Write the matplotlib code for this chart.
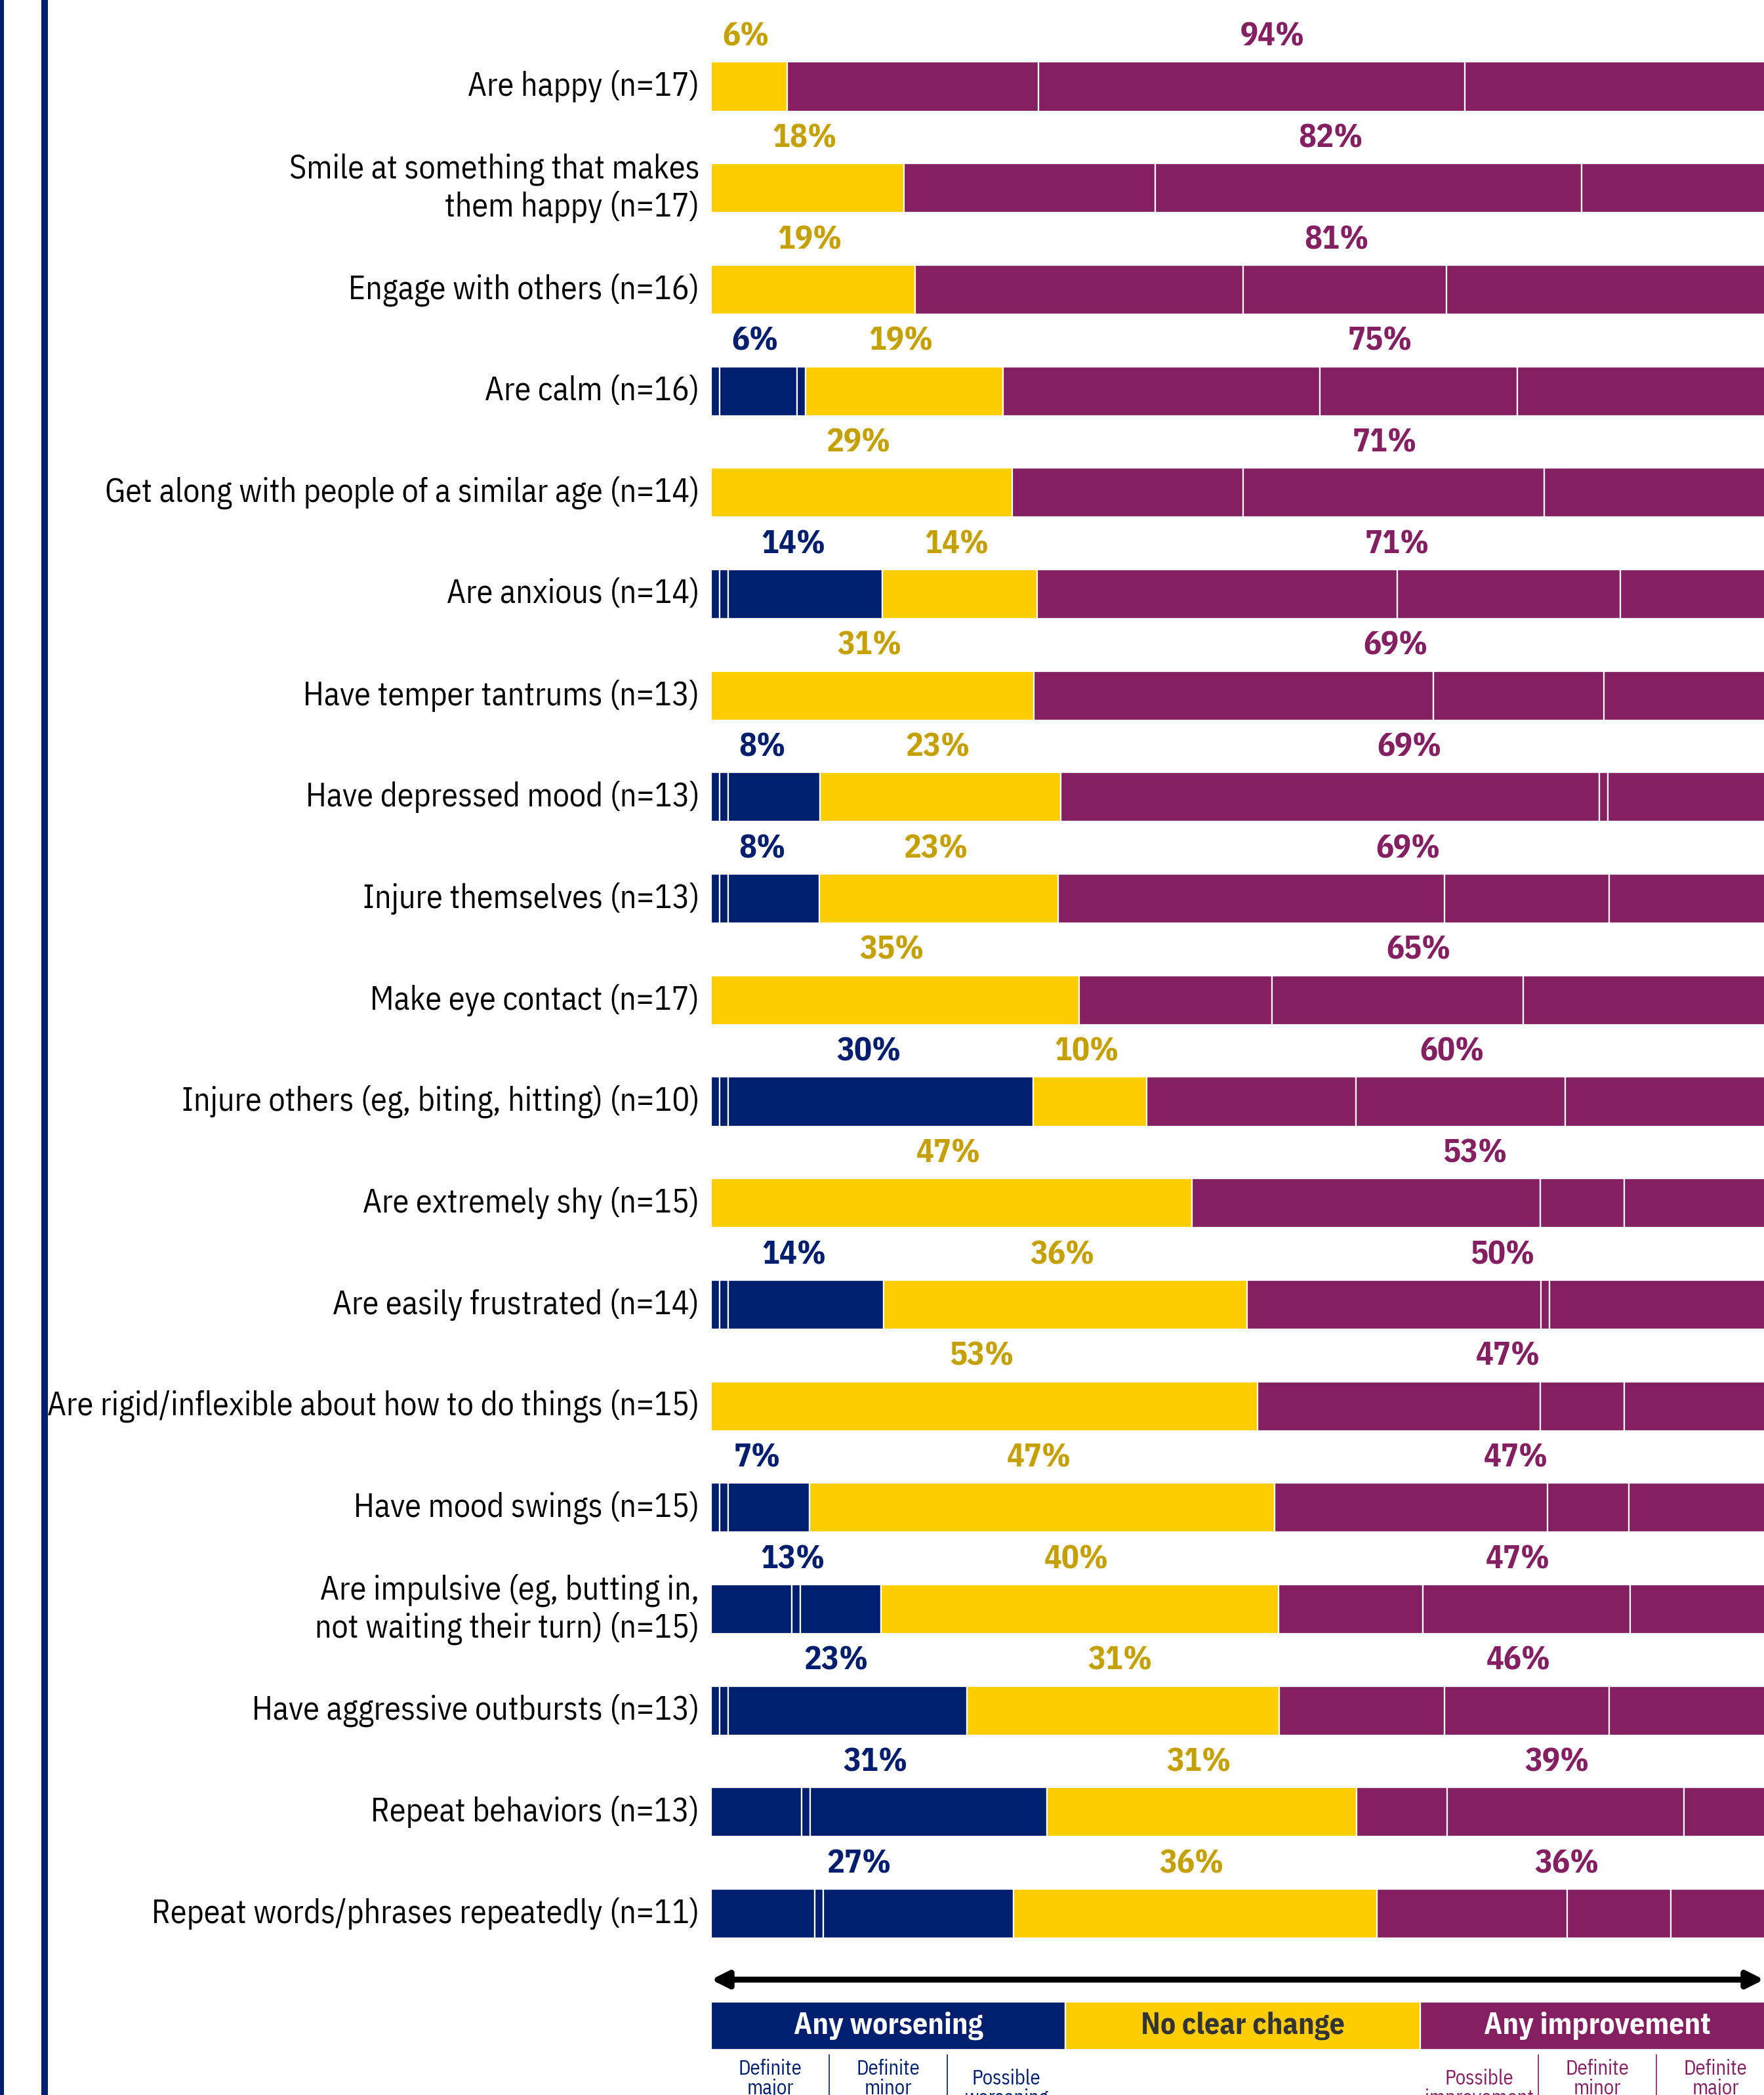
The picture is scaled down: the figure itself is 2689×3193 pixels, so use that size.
import matplotlib
matplotlib.use("Agg")
import matplotlib.pyplot as plt
from matplotlib.patches import Rectangle
from matplotlib.lines import Line2D

plt.rcParams['font.family'] = ['IBM Plex Sans Condensed', 'DejaVu Sans']
plt.rcParams['font.stretch'] = 'condensed'

categories = [
    "Are happy (n=17)",
    "Smile at something that makes\nthem happy (n=17)",
    "Engage with others (n=16)",
    "Are calm (n=16)",
    "Get along with people of a similar age (n=14)",
    "Are anxious (n=14)",
    "Have temper tantrums (n=13)",
    "Have depressed mood (n=13)",
    "Injure themselves (n=13)",
    "Make eye contact (n=17)",
    "Injure others (eg, biting, hitting) (n=10)",
    "Are extremely shy (n=15)",
    "Are easily frustrated (n=14)",
    "Are rigid/inflexible about how to do things (n=15)",
    "Have mood swings (n=15)",
    "Are impulsive (eg, butting in,\nnot waiting their turn) (n=15)",
    "Have aggressive outbursts (n=13)",
    "Repeat behaviors (n=13)",
    "Repeat words/phrases repeatedly (n=11)",
]
n_resp = [17, 17, 16, 16, 14, 14, 13, 13, 13, 17, 10, 15, 14, 15, 15, 15, 13, 13, 11]

# counts per response category
def_major_worse = [0, 0, 0, 0, 0, 0, 0, 0, 0, 0, 0, 0, 0, 0, 0, 1, 0, 1, 1]
def_minor_worse = [0, 0, 0, 1, 0, 0, 0, 0, 0, 0, 0, 0, 0, 0, 0, 0, 0, 0, 0]
poss_worse      = [0, 0, 0, 0, 0, 2, 0, 1, 1, 0, 3, 0, 2, 0, 1, 1, 3, 3, 2]
no_change       = [1, 3, 3, 3, 4, 2, 4, 3, 3, 6, 1, 7, 5, 8, 7, 6, 4, 4, 4]
poss_better     = [4, 4, 5, 5, 3, 5, 5, 7, 5, 3, 2, 5, 4, 4, 4, 2, 2, 1, 2]
def_minor_better = [7, 7, 3, 3, 4, 3, 2, 0, 2, 4, 2, 1, 0, 1, 1, 3, 2, 3, 1]
def_major_better = [5, 3, 5, 4, 3, 2, 2, 2, 2, 4, 2, 2, 3, 2, 2, 2, 2, 1, 1]

# printed group labels
pct_worse  = [0, 0, 0, 6, 0, 14, 0, 8, 8, 0, 30, 0, 14, 0, 7, 13, 23, 31, 27]
pct_same   = [6, 18, 19, 19, 29, 14, 31, 23, 23, 35, 10, 47, 36, 53, 47, 40, 31, 31, 36]
pct_better = [94, 82, 81, 75, 71, 71, 69, 69, 69, 65, 60, 53, 50, 47, 47, 47, 46, 39, 36]

NAVY = '#001e6e'
YELLOW = '#fecd00'
PURPLE = '#841f62'
GOLD_TXT = '#c4a000'
PAD = 1.82      # extra width every filled segment gets (in % units before rescaling)
STUB = 0.88     # width of an empty sub-category inside a non-empty group
BAR_H = 0.485

W, H = 2689, 3193
fig = plt.figure(figsize=(W / 100, H / 100), dpi=100)

# layout in pixels
x0_px, x100_px = 1084, 2705
row0_px, row_step = 132, 154.7
ax = fig.add_axes([x0_px / W, 0, (x100_px - x0_px) / W, 1])
ax.set_xlim(0, 100)
ax.set_ylim((H - row0_px) / row_step, -row0_px / row_step)
ax.axis('off')
x_edge = 100 * (W - x0_px) / (x100_px - x0_px)

# left border lines
fig.add_artist(Rectangle((0, 0), 6 / W, 1, transform=fig.transFigure, color=NAVY, lw=0))
fig.add_artist(Rectangle((63 / W, 0), 10 / W, 1, transform=fig.transFigure, color=NAVY, lw=0))

for i, cat in enumerate(categories):
    n = n_resp[i]
    groups = [
        ([def_major_worse[i], def_minor_worse[i], poss_worse[i]], NAVY, NAVY, pct_worse[i]),
        ([no_change[i]], YELLOW, GOLD_TXT, pct_same[i]),
        ([poss_better[i], def_minor_better[i], def_major_better[i]], PURPLE, PURPLE, pct_better[i]),
    ]
    groups = [g for g in groups if sum(g[0]) > 0]
    raw = [[c / n * 100 + PAD if c > 0 else STUB for c in g[0]] for g in groups]
    scale = 100 / sum(sum(r) for r in raw)
    left = 0.0
    for (counts, col, tcol, pct), widths in zip(groups, raw):
        start = left
        for w in widths:
            ax.barh(i, w * scale, left=left, height=BAR_H, color=col,
                    edgecolor='white', linewidth=1.6)
            left += w * scale
        ax.text((start + min(left, x_edge)) / 2 - 0.3, i - 0.49, f"{pct}%", ha='center',
                va='center', fontsize=36, fontweight='bold', color=tcol)
    ax.text(-1.1, i, cat, ha='right', va='center', fontsize=36, color='black',
            linespacing=1.2, clip_on=False)

# scale arrow and legend
last = len(categories) - 1
y_arrow = last + 0.65
ax.annotate('', xy=(x_edge, y_arrow), xytext=(0, y_arrow),
            arrowprops=dict(arrowstyle='<|-|>', lw=6.5, color='black',
                            mutation_scale=38, shrinkA=0, shrinkB=0))

y_box = last + 1.105
box_h = 0.47
legend_groups = [("Any worsening", NAVY, 'white'),
                 ("No clear change", YELLOW, '#333333'),
                 ("Any improvement", PURPLE, 'white')]
for k, (txt, col, tcol) in enumerate(legend_groups):
    ax.barh(y_box, 100 / 3, left=k * 100 / 3, height=box_h, color=col,
            edgecolor='white', linewidth=1.6)
    ax.text(k * 100 / 3 + 50 / 3, y_box, txt, ha='center', va='center',
            fontsize=33, fontweight='bold', color=tcol)

sub_worse = ["Definite\nmajor\nworsening", "Definite\nminor\nworsening", "Possible\nworsening"]
sub_better = ["Possible\nimprovement", "Definite\nminor\nimprovement", "Definite\nmajor\nimprovement"]
y_sub = last + 1.72
sub_w = 100 / 9
for k, txt in enumerate(sub_worse):
    ax.text(sub_w * (k + 0.5), y_sub, txt, ha='center', va='center', fontsize=22,
            color=NAVY, linespacing=1.0)
for k, txt in enumerate(sub_better):
    ax.text(sub_w * (k + 6.5), y_sub, txt, ha='center', va='center', fontsize=22,
            color=PURPLE, linespacing=1.0)
y_top = last + 1.39
for k in (1, 2):
    ax.add_line(Line2D([sub_w * k] * 2, [y_top, y_top + 1.0], color=NAVY, lw=1.2))
    ax.add_line(Line2D([sub_w * (k + 6)] * 2, [y_top, y_top + 1.0], color=PURPLE, lw=1.2))

fig.savefig('out.png', dpi=100)
